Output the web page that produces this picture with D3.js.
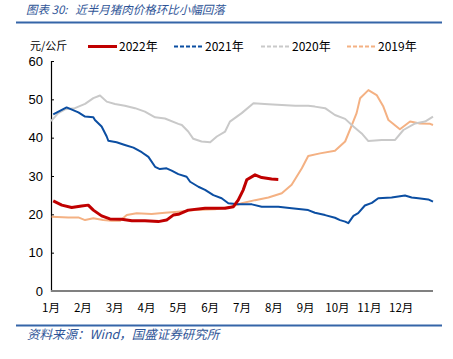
<!DOCTYPE html>
<html>
<head>
<meta charset="utf-8">
<script src="https://cdn.jsdelivr.net/npm/d3@7"></script>
<style>
  body { margin: 0; background: #fff; }
  svg { display: block; }
  .cn { font-family: "Noto Sans CJK SC", "Liberation Sans", sans-serif; }
</style>
</head>
<body>
<script>
const W = 453, H = 359;

// x = month position (0 = 1月1日, 12 = year end), y = 元/公斤
const x2022 = [0.07, 0.34, 0.65, 0.96, 1.17, 1.33, 1.59, 1.85, 2.22, 2.54, 2.95, 3.37, 3.63, 3.84, 4.00, 4.31, 4.84, 5.47, 5.73, 5.88, 6.04, 6.15, 6.41, 6.62, 6.93, 7.14];
const y2022 = [23.5, 22.4, 21.8, 22.2, 22.4, 21.1, 19.6, 18.8, 18.7, 18.3, 18.3, 18.1, 18.5, 19.8, 20.0, 21.1, 21.6, 21.6, 22.0, 23.7, 26.4, 29.0, 30.3, 29.6, 29.2, 29.1];

const x2021 = [0.07, 0.49, 0.86, 1.07, 1.33, 1.38, 1.59, 1.75, 1.80, 2.06, 2.32, 2.59, 2.85, 3.06, 3.27, 3.42, 3.63, 3.79, 4.00, 4.26, 4.37, 4.63, 4.84, 5.10, 5.36, 5.57, 5.88, 6.31, 6.62, 7.14, 7.56, 8.08, 8.29, 8.61, 8.92, 9.08, 9.24, 9.34, 9.50, 9.65, 9.86, 10.08, 10.28, 10.70, 11.12, 11.33, 11.54, 11.85, 12.0];
const y2021 = [46.1, 47.9, 46.6, 45.5, 45.3, 44.6, 42.9, 40.3, 39.2, 38.8, 38.1, 37.4, 36.2, 35.0, 32.4, 31.8, 32.0, 31.4, 30.5, 29.8, 28.5, 27.2, 26.4, 25.0, 24.2, 22.9, 22.6, 22.6, 22.0, 22.0, 21.6, 21.1, 20.4, 19.8, 19.1, 18.5, 18.1, 17.7, 19.6, 20.3, 22.3, 23.0, 24.2, 24.4, 24.9, 24.4, 24.2, 23.9, 23.3];

const x2020 = [0.0, 0.23, 0.44, 0.75, 1.07, 1.33, 1.54, 1.75, 2.01, 2.32, 2.64, 2.95, 3.27, 3.58, 4.00, 4.11, 4.31, 4.47, 4.73, 5.00, 5.21, 5.47, 5.62, 5.99, 6.36, 6.83, 7.25, 7.67, 8.08, 8.29, 8.61, 8.92, 9.24, 9.50, 9.76, 9.97, 10.39, 10.81, 11.07, 11.44, 11.75, 12.0];
const y2020 = [44.3, 46.4, 47.4, 47.7, 48.8, 50.3, 51.0, 49.4, 48.8, 48.3, 47.7, 46.8, 45.3, 45.0, 43.6, 43.3, 41.6, 39.7, 39.0, 38.8, 40.3, 41.6, 44.2, 46.4, 49.0, 48.7, 48.5, 48.3, 48.3, 48.1, 47.7, 45.9, 44.9, 42.9, 41.1, 39.1, 39.4, 39.4, 42.0, 43.7, 44.2, 45.5];

const x2019 = [0.02, 0.54, 0.86, 1.07, 1.33, 1.64, 1.91, 2.17, 2.38, 2.69, 3.16, 3.58, 4.00, 4.52, 5.15, 5.68, 5.99, 6.41, 6.83, 7.25, 7.56, 7.88, 8.08, 8.45, 8.92, 9.24, 9.45, 9.60, 9.71, 9.97, 10.23, 10.44, 10.60, 10.96, 11.28, 11.59, 11.91, 12.0];
const y2019 = [19.4, 19.2, 19.2, 18.5, 19.0, 18.5, 18.3, 18.3, 19.8, 20.3, 20.1, 20.4, 20.7, 21.1, 21.3, 22.0, 22.9, 23.7, 24.4, 25.5, 27.7, 32.0, 35.2, 35.9, 36.6, 39.0, 43.3, 46.4, 50.3, 52.4, 51.1, 48.1, 44.6, 42.2, 44.2, 43.7, 43.6, 43.3];

const months = ["1月", "2月", "3月", "4月", "5月", "6月", "7月", "8月", "9月", "10月", "11月", "12月"];
const yTicks = [0, 10, 20, 30, 40, 50, 60];

const seriesList = [
  { name: "2022年", xs: x2022, ys: y2022, color: "#C00000", width: 3, dash: null, legendX: 88 },
  { name: "2021年", xs: x2021, ys: y2021, color: "#0B4EA2", width: 2, dash: "4,2", legendX: 174 },
  { name: "2020年", xs: x2020, ys: y2020, color: "#C9C9C9", width: 2, dash: "4,2", legendX: 261 },
  { name: "2019年", xs: x2019, ys: y2019, color: "#F4B183", width: 2, dash: "4,2", legendX: 347 }
];

const svg = d3.select("body").append("svg")
  .attr("width", W)
  .attr("height", H);

const blue = "#2F5597";

// title
svg.append("text")
  .attr("class", "cn")
  .attr("x", 26).attr("y", 14)
  .attr("fill", blue)
  .style("font-size", "11.5px")
  .style("font-style", "italic")
  .style("white-space", "pre")
  .text("图表 30:   近半月猪肉价格环比小幅回落");

svg.append("line")
  .attr("x1", 16).attr("x2", 442)
  .attr("y1", 22.5).attr("y2", 22.5)
  .attr("stroke", "#3565A8").attr("stroke-width", 2);

// footer
svg.append("line")
  .attr("x1", 16).attr("x2", 442)
  .attr("y1", 325.5).attr("y2", 325.5)
  .attr("stroke", "#3565A8").attr("stroke-width", 2);

svg.append("text")
  .attr("class", "cn")
  .attr("x", 27).attr("y", 339)
  .attr("fill", blue)
  .style("font-size", "12.5px")
  .style("font-style", "italic")
  .text("资料来源：Wind，国盛证券研究所");

// unit
svg.append("text")
  .attr("class", "cn")
  .attr("x", 30).attr("y", 50)
  .attr("fill", "#000")
  .style("font-size", "11px")
  .text("元/公斤");

const x = d3.scaleLinear().domain([0, 12]).range([51, 433]);
const y = d3.scaleLinear().domain([0, 60]).range([291, 61]);

// y axis
const yAxis = svg.append("g")
  .attr("transform", "translate(51,0)")
  .call(d3.axisRight(y).tickValues(yTicks).tickSize(3).tickFormat(d3.format("d")));
yAxis.select(".domain").attr("stroke", "#000").attr("stroke-width", 1.2);
yAxis.selectAll(".tick line").attr("stroke", "#000");
yAxis.selectAll(".tick text")
  .attr("x", -8)
  .attr("text-anchor", "end")
  .attr("fill", "#000")
  .style("font-family", "'Liberation Sans', Arial, sans-serif")
  .style("font-size", "13px");

// x axis labels
svg.append("g").selectAll("text")
  .data(months).enter()
  .append("text")
  .attr("class", "cn")
  .attr("x", (d, i) => x(i))
  .attr("y", 312)
  .attr("text-anchor", "middle")
  .attr("fill", "#000")
  .style("font-size", "11.5px")
  .text(d => d);

// lines, 2019 at the back
const line = d3.line()
  .x(d => x(d[0]))
  .y(d => y(d[1]));

seriesList.slice().reverse().forEach(s => {
  const pts = s.xs.map((v, i) => [v, s.ys[i]]);
  svg.append("path")
    .datum(pts)
    .attr("fill", "none")
    .attr("stroke", s.color)
    .attr("stroke-width", s.width)
    .attr("stroke-linejoin", "round")
    .attr("d", line);
});

// x axis line (grey)
svg.append("line")
  .attr("x1", 51).attr("x2", 433)
  .attr("y1", y(0)).attr("y2", y(0))
  .attr("stroke", "#808080").attr("stroke-width", 2);

// legend
const legend = svg.append("g");
seriesList.forEach(s => {
  legend.append("line")
    .attr("x1", s.legendX).attr("x2", s.legendX + 29)
    .attr("y1", 46.5).attr("y2", 46.5)
    .attr("stroke", s.color)
    .attr("stroke-width", s.width)
    .attr("stroke-dasharray", s.dash);
  legend.append("text")
    .attr("class", "cn")
    .attr("x", s.legendX + 31)
    .attr("y", 51)
    .attr("fill", "#000")
    .style("font-size", "12px")
    .text(s.name);
});
</script>
</body>
</html>
